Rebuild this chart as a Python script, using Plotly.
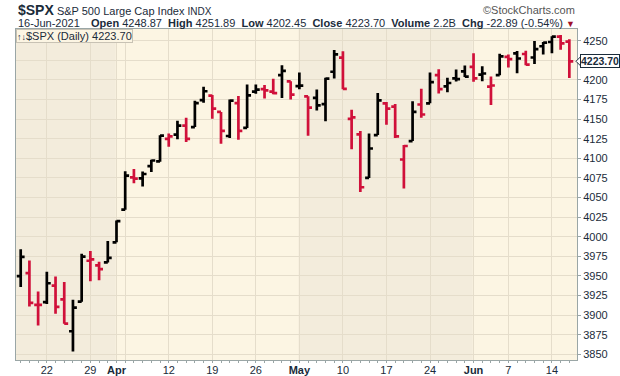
import plotly.graph_objects as go

# ---------------- data ----------------
dates = [
    "2021-03-17", "2021-03-18", "2021-03-19",
    "2021-03-22", "2021-03-23", "2021-03-24", "2021-03-25", "2021-03-26",
    "2021-03-29", "2021-03-30", "2021-03-31", "2021-04-01",
    "2021-04-05", "2021-04-06", "2021-04-07", "2021-04-08", "2021-04-09",
    "2021-04-12", "2021-04-13", "2021-04-14", "2021-04-15", "2021-04-16",
    "2021-04-19", "2021-04-20", "2021-04-21", "2021-04-22", "2021-04-23",
    "2021-04-26", "2021-04-27", "2021-04-28", "2021-04-29", "2021-04-30",
    "2021-05-03", "2021-05-04", "2021-05-05", "2021-05-06", "2021-05-07",
    "2021-05-10", "2021-05-11", "2021-05-12", "2021-05-13", "2021-05-14",
    "2021-05-17", "2021-05-18", "2021-05-19", "2021-05-20", "2021-05-21",
    "2021-05-24", "2021-05-25", "2021-05-26", "2021-05-27", "2021-05-28",
    "2021-06-01", "2021-06-02", "2021-06-03", "2021-06-04",
    "2021-06-07", "2021-06-08", "2021-06-09", "2021-06-10", "2021-06-11",
    "2021-06-14", "2021-06-15", "2021-06-16",
]
opens = [
    3949.57, 3953.50, 3913.14,
    3916.48, 3937.60, 3919.93, 3879.34, 3917.12,
    3969.31, 3963.34, 3967.25, 3992.78,
    4034.44, 4075.57, 4074.29, 4089.95, 4096.11,
    4124.71, 4130.10, 4141.58, 4139.76, 4174.14,
    4179.80, 4159.18, 4128.42, 4170.46, 4138.78,
    4185.03, 4188.25, 4185.14, 4206.14, 4198.10,
    4191.98, 4179.04, 4177.06, 4169.14, 4210.34,
    4228.29, 4150.34, 4130.55, 4074.99, 4129.58,
    4169.92, 4165.94, 4098.45, 4121.97, 4168.61,
    4170.16, 4205.94, 4191.59, 4201.94, 4210.77,
    4216.52, 4206.82, 4191.43, 4206.05,
    4229.34, 4233.81, 4232.99, 4228.56, 4242.90,
    4248.31, 4255.28, 4248.87,
]
highs = [
    3983.87, 3969.62, 3930.12,
    3955.31, 3949.13, 3942.08, 3919.54, 3978.19,
    3981.83, 3968.01, 3994.41, 4020.63,
    4083.42, 4086.23, 4083.13, 4098.19, 4129.48,
    4131.76, 4148.00, 4151.69, 4173.49, 4191.31,
    4180.81, 4159.18, 4175.02, 4179.57, 4194.17,
    4194.19, 4193.35, 4201.53, 4218.78, 4198.10,
    4209.39, 4179.04, 4187.72, 4202.70, 4238.04,
    4236.39, 4162.04, 4134.73, 4131.58, 4183.13,
    4171.92, 4169.15, 4116.93, 4172.80, 4188.72,
    4209.52, 4213.42, 4202.61, 4213.38, 4218.36,
    4234.12, 4217.37, 4204.39, 4233.45,
    4232.34, 4236.74, 4237.09, 4249.74, 4248.38,
    4255.59, 4257.16, 4251.89,
]
lows = [
    3935.74, 3910.86, 3886.75,
    3914.16, 3901.57, 3889.07, 3853.50, 3917.12,
    3943.25, 3944.35, 3966.98, 3992.78,
    4034.44, 4068.14, 4064.04, 4082.54, 4095.51,
    4114.82, 4124.43, 4120.87, 4139.76, 4170.75,
    4150.47, 4118.38, 4126.01, 4123.69, 4138.78,
    4182.36, 4176.22, 4181.78, 4176.81, 4174.85,
    4188.03, 4128.59, 4160.94, 4147.33, 4201.64,
    4188.13, 4111.53, 4056.88, 4074.99, 4129.58,
    4142.69, 4125.99, 4061.41, 4121.97, 4151.72,
    4170.16, 4182.52, 4184.11, 4197.78, 4203.57,
    4197.59, 4198.27, 4167.93, 4206.05,
    4215.66, 4208.41, 4218.74, 4220.34, 4232.25,
    4234.07, 4238.35, 4202.45,
]
closes = [
    3974.12, 3915.46, 3913.10,
    3940.59, 3910.52, 3889.14, 3909.52, 3974.54,
    3971.09, 3958.55, 3972.89, 4019.87,
    4077.91, 4073.94, 4079.95, 4097.17, 4128.80,
    4127.99, 4141.59, 4124.66, 4170.42, 4185.47,
    4163.26, 4134.94, 4173.42, 4134.98, 4180.17,
    4187.62, 4186.72, 4183.18, 4211.47, 4181.17,
    4192.66, 4164.66, 4167.59, 4201.62, 4232.60,
    4188.43, 4152.10, 4063.04, 4112.50, 4173.85,
    4163.29, 4127.83, 4115.68, 4159.12, 4155.86,
    4197.05, 4188.13, 4195.99, 4200.88, 4204.11,
    4202.04, 4208.12, 4192.85, 4229.89,
    4226.52, 4227.26, 4219.55, 4239.18, 4247.44,
    4255.15, 4246.59, 4223.70,
]
prior_close = 3962.71  # close of the session before the first bar

y_ticks = list(range(3850, 4251, 25))
x_tick_dates = ["2021-03-22", "2021-03-29", "2021-04-01", "2021-04-05", "2021-04-12",
                "2021-04-19", "2021-04-26", "2021-05-03", "2021-05-10", "2021-05-17",
                "2021-05-24", "2021-06-01", "2021-06-07", "2021-06-14"]
x_tick_labels = ["22", "29", "<b>Apr</b>", "", "12", "19", "26", "<b>May</b>", "10",
                 "17", "24", "<b>Jun</b>", "7", "14"]
month_starts = ["2021-04-01", "2021-05-03", "2021-06-01"]

# ---------------- styling ----------------
BLACK = "#000000"
RED = "#D0103A"
LIGHT_BG = "#FCF5E3"
DARK_BG = "#F3ECDC"
GRID = "#E5DDCB"
AXIS = "#9AA6A6"
TXT = "#1A2B3A"
FONT = "Liberation Sans, Arial, sans-serif"

idx = list(range(len(dates)))
prev = [prior_close] + closes[:-1]
up = [c >= p for c, p in zip(closes, prev)]


def subset(flag):
    sel = [i for i in idx if up[i] == flag]
    return (sel, [opens[i] for i in sel], [highs[i] for i in sel],
            [lows[i] for i in sel], [closes[i] for i in sel])


fig = go.Figure()
for flag, col in ((True, BLACK), (False, RED)):
    xs, o, h, l, c = subset(flag)
    fig.add_trace(go.Ohlc(
        x=xs, open=o, high=h, low=l, close=c,
        increasing=dict(line=dict(color=col, width=2.7)),
        decreasing=dict(line=dict(color=col, width=2.7)),
        tickwidth=0.45, showlegend=False, hoverinfo="skip",
    ))

# month shading (March and May darker)
ms = [dates.index(d) - 0.1 for d in month_starts]
x_lo, x_hi = -0.54, 63.88
for a, b in ((x_lo, ms[0]), (ms[1], ms[2])):
    fig.add_shape(type="rect", xref="x", yref="paper", x0=a, x1=b, y0=0, y1=1,
                  fillcolor=DARK_BG, line_width=0, layer="below")

fig.update_layout(
    width=620, height=376,
    margin=dict(l=16, r=43, t=29, b=16),
    paper_bgcolor="white", plot_bgcolor=LIGHT_BG,
    font=dict(family=FONT, color=TXT, size=11),
    xaxis=dict(
        range=[x_lo, x_hi], rangeslider=dict(visible=False),
        tickvals=[dates.index(d) for d in x_tick_dates], ticktext=x_tick_labels,
        showgrid=True, gridcolor=GRID, gridwidth=1,
        showline=True, linecolor=AXIS, linewidth=1, mirror=True,
        ticks="",
        minor=dict(dtick=1, tick0=0, ticks="outside", ticklen=2, tickcolor=AXIS, showgrid=False),
        tickfont=dict(size=11, color=TXT), zeroline=False, automargin=False,
    ),
    yaxis=dict(
        side="right", range=[3842.7, 4264.9], tickvals=y_ticks,
        showgrid=True, gridcolor=GRID, gridwidth=1,
        showline=True, linecolor=AXIS, linewidth=1, mirror=True,
        ticks="outside", ticklen=3, tickcolor=AXIS,
        tickfont=dict(size=11, color=TXT), zeroline=False, automargin=False,
    ),
)

def py(ypix):
    # pixel row -> paper y (plot area from 29 to 360)
    return (360 - ypix) / 331.0

ann = []
ann.append(dict(x=0, y=py(10.5), xref="paper", yref="paper", xanchor="left", yanchor="middle",
                showarrow=False,
                text="<b><span style='font-size:14px'>$SPX</span></b> "
                     "<span style='font-size:11px'>S&amp;P 500 Large Cap Index</span> "
                     "<span style='font-size:10px'>INDX</span>",
                font=dict(family=FONT, color=TXT)))
ann.append(dict(x=1, y=py(10), xref="paper", yref="paper", xanchor="right", yanchor="middle",
                showarrow=False, text="©StockCharts.com",
                font=dict(family=FONT, size=11, color="#555555")))
ann.append(dict(x=0, y=py(23.5), xref="paper", yref="paper", xanchor="left", yanchor="middle",
                showarrow=False, text="16-Jun-2021",
                font=dict(family=FONT, size=11, color=TXT)))
ann.append(dict(x=1, y=py(23.5), xref="paper", yref="paper", xanchor="right", yanchor="middle",
                showarrow=False,
                text="<b>Open</b> 4248.87&nbsp;&nbsp;<b>High</b> 4251.89&nbsp;&nbsp;"
                     "<b>Low</b> 4202.45&nbsp;&nbsp;<b>Close</b> 4223.70&nbsp;&nbsp;"
                     "<b>Volume</b> 2.2B&nbsp;&nbsp;<b>Chg</b> -22.89 (-0.54%) "
                     "<span style='color:#A0102A;font-size:9px'>▼</span>",
                font=dict(family=FONT, size=11, color=TXT)))
# legend box
ann.append(dict(x=0, y=1, xref="paper", yref="paper", xanchor="left", yanchor="top",
                showarrow=False, text="<span style='font-size:9px'>↑↓</span>$SPX (Daily) 4223.70",
                font=dict(family=FONT, size=11, color=TXT),
                bgcolor=LIGHT_BG, bordercolor="#C8C2B4", borderwidth=1, borderpad=0))
# last price label
ann.append(dict(x=1, y=closes[-1], xref="paper", yref="y", xanchor="left", yanchor="middle",
                xshift=3, showarrow=False, text="<b>%.2f</b>" % closes[-1],
                font=dict(family=FONT, size=10.5, color=TXT),
                bgcolor="white", bordercolor=TXT, borderwidth=1, borderpad=0))
fig.update_layout(annotations=ann)

# pointer of the last price label
fig.add_shape(type="path", xref="paper", yref="y", xsizemode="pixel", ysizemode="pixel",
              xanchor=1, yanchor=closes[-1],
              path="M -1 0 L 4 -5 L 4 5 Z", fillcolor="white",
              line=dict(color=TXT, width=1), layer="above")

fig.write_html("out.html", post_script="document.body.style.margin='0';",
               config={"displayModeBar": False})
